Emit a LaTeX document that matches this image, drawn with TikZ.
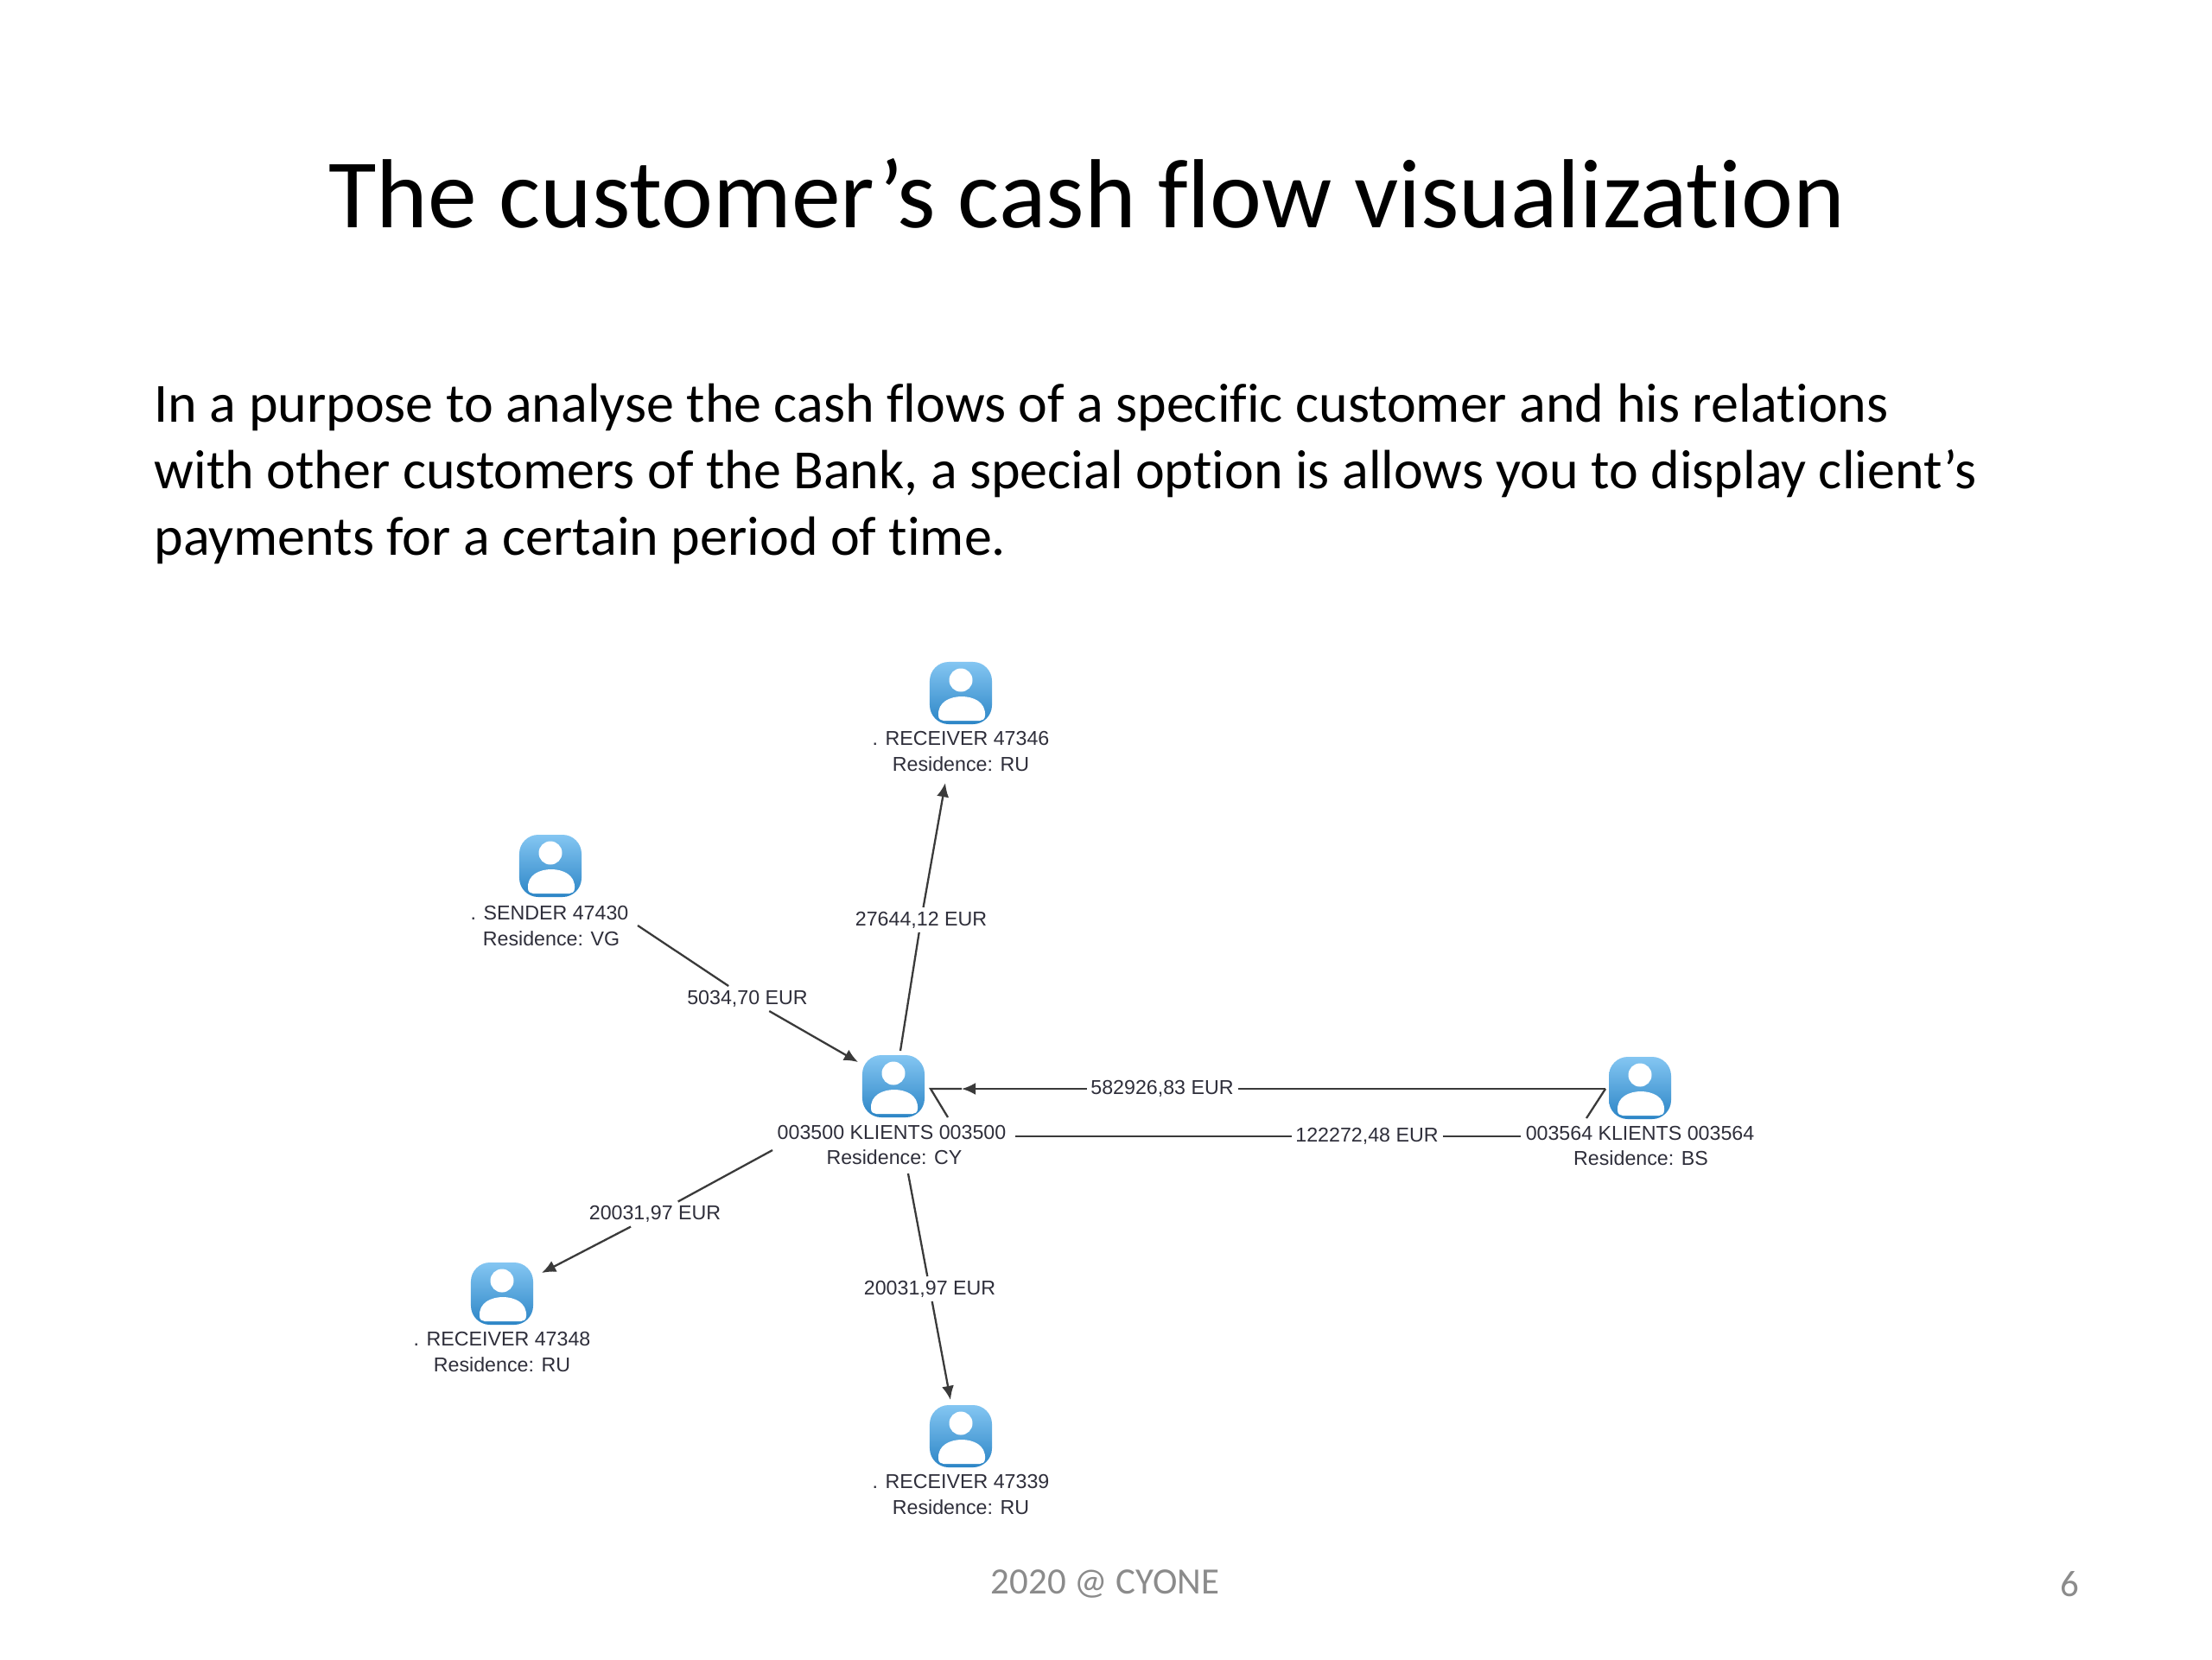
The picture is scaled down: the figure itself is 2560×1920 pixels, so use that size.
\documentclass[tikz,border=0pt]{standalone}
\usepackage{fontspec}
\setmainfont{Carlito}[Ligatures=NoCommon]
\newfontfamily\diag{Liberation Sans}
\usetikzlibrary{arrows.meta,calc}
\definecolor{iconT}{HTML}{84C6F2}
\definecolor{iconB}{HTML}{2C85C6}
\definecolor{foot}{HTML}{8B8B8B}
\definecolor{diagtext}{HTML}{2E2E3A}
\definecolor{edge}{HTML}{3A3A3A}
\tikzset{
  person/.style={rounded corners=2.2mm, minimum size=7.2mm, inner sep=0pt, top color=iconT, bottom color=iconB, draw=none,
    path picture={
      \begin{scope}[shift={(path picture bounding box.center)}]
      \fill[white, sharp corners] (0,-15) circle[radius=13.5];
      \fill[white, sharp corners] (-26,26) .. controls (-27,10) and (-12,4) .. (1,4) .. controls (14,4) and (29,10) .. (28,26) .. controls (28,30) and (25,32) .. (22,32) -- (-20,32) .. controls (-23,32) and (-26,30) .. (-26,26) -- cycle;
      \end{scope}
    }},
  nlabel/.style={font=\diag\fontsize{6.6}{8}\selectfont, text=diagtext, inner sep=0pt, anchor=center},
  elabel/.style={font=\diag\fontsize{6.6}{8}\selectfont, text=diagtext, inner sep=1.2pt, anchor=center},
  conn/.style={draw=edge, line width=0.65pt},
  arr/.style={conn, -{Latex[length=4.6pt,width=4pt]}},
  bodytext/.style={font=\fontsize{18.2}{22}\selectfont, anchor=base west, inner sep=0pt, text=black},
}
\begin{document}
\begin{tikzpicture}[x=0.01cm,y=-0.01cm]
\useasboundingbox (0,0) rectangle (2560,1920);
\fill[white] (0,0) rectangle (2560,1920);

\node[font=\fontsize{32.3}{38}\selectfont, anchor=base, inner sep=0pt] (title) at (1258,263) {The customer’s cash flow visualization};
\node[bodytext] (b1) at (178,488) {In a purpose to analyse the cash flows of a specific customer and his relations};
\node[bodytext] (b2) at (178,565) {with other customers of the Bank, a special option is allows you to display client’s};
\node[bodytext] (b3) at (178,642) {payments for a certain period of time.};

% icons
\node[person] (top) at (1112,802) {};
\node[person] (sender) at (637,1002) {};
\node[person] (main) at (1034,1257) {};
\node[person] (right) at (1898,1259) {};
\node[person] (lb) at (581,1497) {};
\node[person] (bottom) at (1112,1662) {};

% node labels
\node[nlabel] (topA) at (1112,854) {. RECEIVER 47346};
\node[nlabel] (topB) at (1112,884) {Residence: RU};
\node[nlabel] (senderA) at (636,1056) {. SENDER 47430};
\node[nlabel] (senderB) at (638,1086) {Residence: VG};
\node[nlabel] (mainA) at (1032,1310) {003500 KLIENTS 003500};
\node[nlabel] (mainB) at (1035,1339) {Residence: CY};
\node[nlabel] (rightA) at (1898,1311) {003564 KLIENTS 003564};
\node[nlabel] (rightB) at (1899,1340) {Residence: BS};
\node[nlabel] (lbA) at (581,1549) {. RECEIVER 47348};
\node[nlabel] (lbB) at (581,1579) {Residence: RU};
\node[nlabel] (bottomA) at (1112,1714) {. RECEIVER 47339};
\node[nlabel] (bottomB) at (1112,1744) {Residence: RU};

% edge labels
\node[elabel] (e1) at (1066,1064.5) {27644,12 EUR};
\node[elabel] (e2) at (865,1155.5) {5034,70 EUR};
\node[elabel] (e3) at (1345,1260) {\raisebox{-0.8pt}{582926,83 EUR}};
\node[elabel] (e4) at (1582,1315) {\raisebox{-0.8pt}{122272,48 EUR}};
\node[elabel] (e5) at (758,1405) {20031,97 EUR};
\node[elabel] (e6) at (1076,1491.5) {20031,97 EUR};

% free ends
\coordinate (topIn) at ($(top)+(-18,104)$);
\coordinate (mainN) at ($(main)+(8,-41)$);
\coordinate (senderOut) at ($(sender)+(101,69)$);
\coordinate (mainNW) at ($(main)+(-41,-28)$);
\coordinate (rightW) at ($(right)+(-40,1)$);
\coordinate (mainE) at ($(main)+(43,3)$);
\coordinate (mainArrow) at ($(main)+(79,3)$);
\coordinate (mainSE) at ($(main)+(63,36)$);
\coordinate (rightSW) at ($(right)+(-62,35)$);
\coordinate (loopL) at ($(main)+(141,58)$);
\coordinate (loopR) at ($(right)+(-138,56)$);
\coordinate (mainSW) at ($(main)+(-140,74)$);
\coordinate (lbIn) at ($(lb)+(46,-24)$);
\coordinate (mainS) at ($(main)+(17,101)$);
\coordinate (bottomIn) at ($(bottom)+(-12,-42)$);

% connectors
\draw[conn] (mainN) -- (e1);
\draw[arr] (e1) -- (topIn);
\draw[conn] (senderOut) -- (e2);
\draw[arr] (e2) -- (mainNW);
\draw[conn] (rightW) -- (e3);
\draw[arr] (e3) -- (mainArrow);
\draw[conn] (mainArrow) -- (mainE) -- (mainSE);
\draw[conn] (rightW) -- (rightSW);
\draw[conn] (loopL) -- (e4);
\draw[conn] (e4) -- (loopR);
\draw[conn] (mainSW) -- (e5);
\draw[arr] (e5) -- (lbIn);
\draw[conn] (mainS) -- (e6);
\draw[arr] (e6) -- (bottomIn);

% footer
\node[font=\fontsize{12.2}{14}\selectfont, text=foot, inner sep=0pt] (foot) at (1279,1833) {2020 @ CYONE};
\node[font=\fontsize{12.2}{14}\selectfont, text=foot, inner sep=0pt] (page) at (2395,1833) {6};
\end{tikzpicture}
\end{document}
